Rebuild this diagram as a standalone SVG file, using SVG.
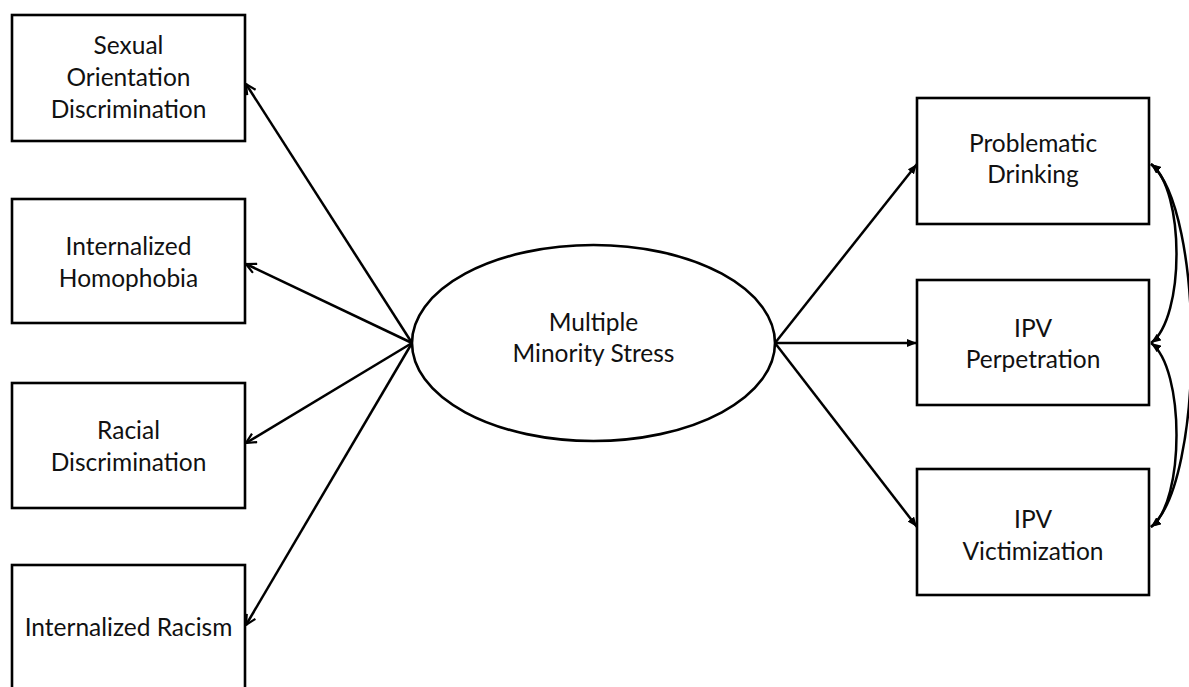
<svg xmlns="http://www.w3.org/2000/svg" width="1189" height="687" viewBox="0 0 1189 687">
  <defs>
    <marker id="open" viewBox="0 0 12 12" refX="11" refY="6" markerWidth="12" markerHeight="12" markerUnits="userSpaceOnUse" orient="auto">
      <path d="M1,1 L11,6 L1,11" fill="none" stroke="#000" stroke-width="2.2"/>
    </marker>
    <marker id="solid" viewBox="0 0 10 8" refX="10" refY="4" markerWidth="10" markerHeight="8" markerUnits="userSpaceOnUse" orient="auto-start-reverse">
      <path d="M0,0 L10,4 L0,8 Z" fill="#000"/>
    </marker>
  </defs>
  <style>
    .box { fill: #fff; stroke: #000; stroke-width: 2.6; }
    .lbl { font-family: Lato, "Liberation Sans", sans-serif; font-size: 24.5px; fill: #111; text-anchor: middle; }
    .edge { fill: none; stroke: #000; stroke-width: 2.5; }
  </style>
  <rect width="1189" height="687" fill="#fff"/>

  <g id="connectors">
    <line class="edge" x1="412" y1="343" x2="246" y2="84" marker-end="url(#open)"/>
    <line class="edge" x1="412" y1="343" x2="246" y2="264" marker-end="url(#open)"/>
    <line class="edge" x1="412" y1="343" x2="246" y2="443" marker-end="url(#open)"/>
    <line class="edge" x1="412" y1="343" x2="246" y2="625" marker-end="url(#open)"/>
    <line class="edge" x1="775" y1="343" x2="917" y2="164" marker-end="url(#solid)"/>
    <line class="edge" x1="775" y1="343" x2="917" y2="343" marker-end="url(#solid)"/>
    <line class="edge" x1="775" y1="343" x2="917" y2="527" marker-end="url(#solid)"/>
    <path class="edge" d="M1151,164 C1185,190 1185,318 1151,343" marker-start="url(#solid)" marker-end="url(#solid)"/>
    <path class="edge" d="M1151,343 C1185,368 1185,502 1151,527" marker-start="url(#solid)" marker-end="url(#solid)"/>
    <path class="edge" d="M1151,164 C1205,210 1205,482 1151,527" marker-start="url(#solid)" marker-end="url(#solid)"/>
  </g>

  <g id="sexual-orientation-discrimination">
    <rect class="box" x="12" y="15" width="233" height="126"/>
    <text class="lbl" x="128.5" y="54">Sexual</text>
    <text class="lbl" x="128.5" y="86">Orientation</text>
    <text class="lbl" x="128.5" y="118">Discrimination</text>
  </g>
  <g id="internalized-homophobia">
    <rect class="box" x="12" y="199" width="233" height="124"/>
    <text class="lbl" x="128.5" y="255">Internalized</text>
    <text class="lbl" x="128.5" y="287">Homophobia</text>
  </g>
  <g id="racial-discrimination">
    <rect class="box" x="12" y="383" width="233" height="125"/>
    <text class="lbl" x="128.5" y="439">Racial</text>
    <text class="lbl" x="128.5" y="471">Discrimination</text>
  </g>
  <g id="internalized-racism">
    <rect class="box" x="12" y="565" width="233" height="130"/>
    <text class="lbl" x="128.5" y="636">Internalized Racism</text>
  </g>

  <g id="multiple-minority-stress">
    <ellipse class="box" cx="593.5" cy="343" rx="181.5" ry="98"/>
    <text class="lbl" x="593.5" y="331">Multiple</text>
    <text class="lbl" x="593.5" y="362">Minority Stress</text>
  </g>

  <g id="problematic-drinking">
    <rect class="box" x="917" y="98" width="232" height="126"/>
    <text class="lbl" x="1033" y="152">Problematic</text>
    <text class="lbl" x="1033" y="183">Drinking</text>
  </g>
  <g id="ipv-perpetration">
    <rect class="box" x="917" y="280" width="232" height="125"/>
    <text class="lbl" x="1033" y="337">IPV</text>
    <text class="lbl" x="1033" y="368">Perpetration</text>
  </g>
  <g id="ipv-victimization">
    <rect class="box" x="917" y="469" width="232" height="126"/>
    <text class="lbl" x="1033" y="528">IPV</text>
    <text class="lbl" x="1033" y="560">Victimization</text>
  </g>
</svg>
